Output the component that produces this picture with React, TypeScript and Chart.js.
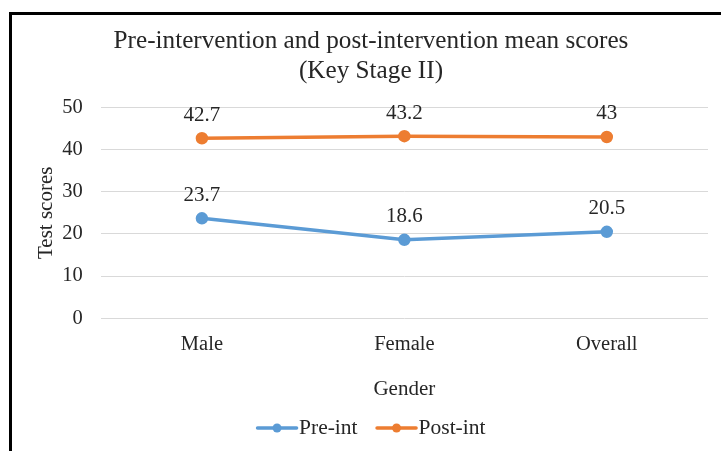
import React, { useEffect, useRef } from "react";
import { Chart, registerables } from "chart.js";

Chart.register(...registerables);

const categories = ["Male", "Female", "Overall"];
const preInt = [23.7, 18.6, 20.5];
const postInt = [42.7, 43.2, 43];
const seriesNames = ["Pre-int", "Post-int"];
const titleLines = ["Pre-intervention and post-intervention mean scores", "(Key Stage II)"];
const xTitle = "Gender";
const yTitle = "Test scores";
const yTicks = { min: 0, max: 50, step: 10 };

const BLUE = "#5B9BD5";
const ORANGE = "#ED7D31";
const TEXT = "#262626";
const FONT = "'Liberation Serif', 'Times New Roman', serif";

const LEGEND_H = 45;

const dataLabels = {
  id: "dataLabels",
  afterDatasetsDraw(chart: any) {
    const ctx = chart.ctx;
    ctx.save();
    ctx.font = `21px ${FONT}`;
    ctx.fillStyle = TEXT;
    ctx.textAlign = "center";
    ctx.textBaseline = "middle";
    chart.data.datasets.forEach((ds: any, i: number) => {
      const meta = chart.getDatasetMeta(i);
      meta.data.forEach((pt: any, j: number) => {
        ctx.fillText(String(ds.data[j]), pt.x, pt.y - 23);
      });
    });
    ctx.restore();
  },
};

// Legend drawn as a line with a marker, text right next to it (Excel-style)
const lineLegend = {
  id: "lineLegend",
  afterDraw(chart: any) {
    const ctx = chart.ctx;
    const pad = chart.options.layout.padding;
    const left = pad.left;
    const right = chart.width - pad.right;
    const cy = chart.height - pad.bottom + 22;
    const lineLen = 41;
    const textGap = 1.5;
    const itemGap = 18.5;
    ctx.save();
    ctx.font = `21.5px ${FONT}`;
    const items = chart.data.datasets.map((ds: any) => ({
      label: ds.label,
      color: ds.borderColor,
      w: ctx.measureText(ds.label).width,
    }));
    const total =
      items.reduce((s: number, it: any) => s + lineLen + textGap + it.w, 0) + itemGap * (items.length - 1);
    let x = (left + right) / 2 - total / 2;
    ctx.textBaseline = "middle";
    ctx.textAlign = "left";
    items.forEach((it: any) => {
      ctx.strokeStyle = it.color;
      ctx.lineWidth = 3.5;
      ctx.lineCap = "round";
      ctx.beginPath();
      ctx.moveTo(x + 1, cy);
      ctx.lineTo(x + lineLen - 1, cy);
      ctx.stroke();
      ctx.fillStyle = it.color;
      ctx.beginPath();
      ctx.arc(x + lineLen / 2, cy, 4.5, 0, Math.PI * 2);
      ctx.fill();
      ctx.fillStyle = TEXT;
      ctx.fillText(it.label, x + lineLen + textGap, cy);
      x += lineLen + textGap + it.w + itemGap;
    });
    ctx.restore();
  },
};

export default function App() {
  const ref = useRef<HTMLCanvasElement>(null);
  useEffect(() => {
    const chart = new Chart(ref.current!, {
      type: "line",
      data: {
        labels: categories,
        datasets: [
          {
            label: seriesNames[0],
            data: preInt,
            borderColor: BLUE,
            backgroundColor: BLUE,
            borderWidth: 3.5,
            pointRadius: 4.5,
            pointHoverRadius: 4.5,
            tension: 0,
          },
          {
            label: seriesNames[1],
            data: postInt,
            borderColor: ORANGE,
            backgroundColor: ORANGE,
            borderWidth: 3.5,
            pointRadius: 4.5,
            pointHoverRadius: 4.5,
            tension: 0,
          },
        ],
      },
      options: {
        animation: false,
        responsive: false,
        devicePixelRatio: 1,
        layout: { padding: { left: 34, right: 13, top: 26, bottom: LEGEND_H } },
        plugins: {
          title: {
            display: true,
            text: titleLines,
            color: TEXT,
            font: { family: FONT, size: 25.2, weight: "normal", lineHeight: 1.2 },
            padding: { top: 0, bottom: 21 },
          },
          legend: { display: false },
          tooltip: { enabled: false },
        },
        scales: {
          x: {
            offset: true,
            grid: { display: false },
            border: { display: false },
            ticks: { color: TEXT, font: { family: FONT, size: 20.5 }, padding: 6 },
            title: {
              display: true,
              text: xTitle,
              color: TEXT,
              font: { family: FONT, size: 21 },
              padding: { top: 14, bottom: 4 },
            },
          },
          y: {
            min: yTicks.min,
            max: yTicks.max,
            grid: { color: "#D9D9D9", drawTicks: false },
            border: { display: false },
            ticks: {
              stepSize: yTicks.step,
              color: TEXT,
              font: { family: FONT, size: 20.5 },
              padding: 18,
            },
            title: {
              display: true,
              text: yTitle,
              color: TEXT,
              font: { family: FONT, size: 21 },
              padding: { top: 0, bottom: -15 },
            },
          },
        },
      },
      plugins: [dataLabels, lineLegend],
    });
    return () => chart.destroy();
  }, []);
  return (
    <div style={{ position: "fixed", left: 0, top: 0, width: 721, height: 451, background: "#fff", overflow: "hidden" }}>
      <div
        style={{
          position: "absolute",
          left: 9,
          top: 12,
          width: 800,
          height: 500,
          borderLeft: "3px solid #000",
          borderTop: "3px solid #000",
        }}
      />
      <canvas ref={ref} width={721} height={451} style={{ position: "absolute", left: 0, top: 0 }} />
    </div>
  );
}
